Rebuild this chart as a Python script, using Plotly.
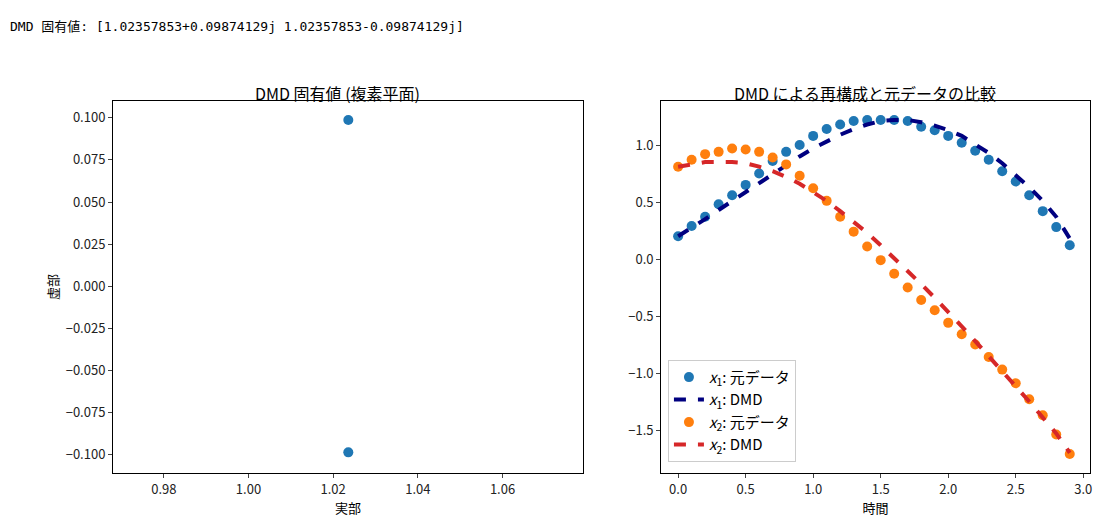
import plotly.graph_objects as go
from plotly.subplots import make_subplots

eig_real = [1.02357853, 1.02357853]
eig_imag = [0.09874129, -0.09874129]

t = [round(0.1 * i, 1) for i in range(30)]
x1_data = [0.20, 0.29, 0.37, 0.48, 0.56, 0.65, 0.75, 0.86, 0.94, 1.00,
           1.08, 1.14, 1.18, 1.21, 1.22, 1.22, 1.22, 1.21, 1.16, 1.13,
           1.08, 1.02, 0.95, 0.87, 0.77, 0.68, 0.56, 0.42, 0.28, 0.12]
x2_data = [0.81, 0.87, 0.92, 0.94, 0.97, 0.96, 0.94, 0.89, 0.83, 0.73,
           0.62, 0.51, 0.37, 0.24, 0.11, -0.01, -0.13, -0.25, -0.36, -0.45,
           -0.56, -0.66, -0.75, -0.86, -0.97, -1.09, -1.23, -1.37, -1.54, -1.71]
x1_dmd = [0.20, 0.27, 0.35, 0.43, 0.51, 0.59, 0.67, 0.75, 0.83, 0.90,
          0.97, 1.03, 1.09, 1.14, 1.18, 1.21, 1.22, 1.22, 1.20, 1.17,
          1.13, 1.08, 1.01, 0.93, 0.84, 0.74, 0.63, 0.51, 0.37, 0.18]
x2_dmd = [0.81, 0.83, 0.85, 0.85, 0.85, 0.84, 0.81, 0.77, 0.72, 0.66,
          0.59, 0.51, 0.42, 0.33, 0.23, 0.12, 0.01, -0.10, -0.22, -0.34,
          -0.46, -0.59, -0.72, -0.85, -0.98, -1.11, -1.25, -1.39, -1.53, -1.70]

FONT = 'Noto Sans CJK JP, DejaVu Sans'


def plot_dmd():
    """
    Plot the DMD eigenvalues and the reconstruction against the original data.
    """
    fig = make_subplots(rows=1, cols=2, horizontal_spacing=0.08,
                        subplot_titles=('DMD 固有値 (複素平面)', 'DMD による再構成と元データの比較'))

    fig.add_trace(go.Scatter(x=eig_real, y=eig_imag, mode='markers',
                             marker=dict(color='#1f77b4', size=10), showlegend=False),
                  row=1, col=1)

    fig.add_trace(go.Scatter(x=t, y=x1_data, mode='markers', name='<i>x</i><sub>1</sub>: 元データ',
                             marker=dict(color='#1f77b4', size=10)), row=1, col=2)
    fig.add_trace(go.Scatter(x=t, y=x1_dmd, mode='lines', name='<i>x</i><sub>1</sub>: DMD',
                             line=dict(color='navy', dash='dash', width=4)), row=1, col=2)
    fig.add_trace(go.Scatter(x=t, y=x2_data, mode='markers', name='<i>x</i><sub>2</sub>: 元データ',
                             marker=dict(color='#ff7f0e', size=10)), row=1, col=2)
    fig.add_trace(go.Scatter(x=t, y=x2_dmd, mode='lines', name='<i>x</i><sub>2</sub>: DMD',
                             line=dict(color='#d62728', dash='dash', width=4)), row=1, col=2)

    axis_style = dict(showline=True, mirror=True, linecolor='black', linewidth=1,
                      showgrid=False, zeroline=False, ticks='outside', ticklen=4,
                      tickfont=dict(size=13, color='#222'), title_standoff=4,
                      title_font=dict(size=13))
    fig.update_xaxes(**axis_style)
    fig.update_yaxes(**axis_style)
    fig.update_xaxes(domain=[0, 0.481], range=[0.968, 1.079], dtick=0.02, tickformat='.2f',
                     title_text='実部', row=1, col=1)
    fig.update_yaxes(range=[-0.111, 0.110], dtick=0.025, tickformat='.3f',
                     title_text='虚部', row=1, col=1)
    fig.update_xaxes(domain=[0.561, 1], range=[-0.126, 3.05], dtick=0.5, tickformat='.1f',
                     title_text='時間', row=1, col=2)
    fig.update_yaxes(range=[-1.877, 1.386], dtick=0.5, tickformat='.1f', row=1, col=2)
    fig.update_annotations(font=dict(size=16, family=FONT, color='black'), yshift=-6)

    fig.add_annotation(text='DMD 固有値: [1.02357853+0.09874129j 1.02357853-0.09874129j]',
                       xref='paper', yref='paper', x=-0.107, y=1.225, xanchor='left',
                       showarrow=False, font=dict(family='DejaVu Sans Mono, Noto Sans CJK JP', size=13))

    fig.update_layout(
        width=1104, height=531,
        margin=dict(l=105, r=22, t=93, b=66),
        plot_bgcolor='white', paper_bgcolor='white',
        font=dict(family=FONT, size=13, color='black'),
        legend=dict(x=0.568, y=0.03, xanchor='left', yanchor='bottom',
                    bordercolor='#ccc', borderwidth=1, bgcolor='rgba(255,255,255,0.8)',
                    font=dict(size=15), tracegroupgap=4),
    )

    fig.write_html('out.html')


plot_dmd()
